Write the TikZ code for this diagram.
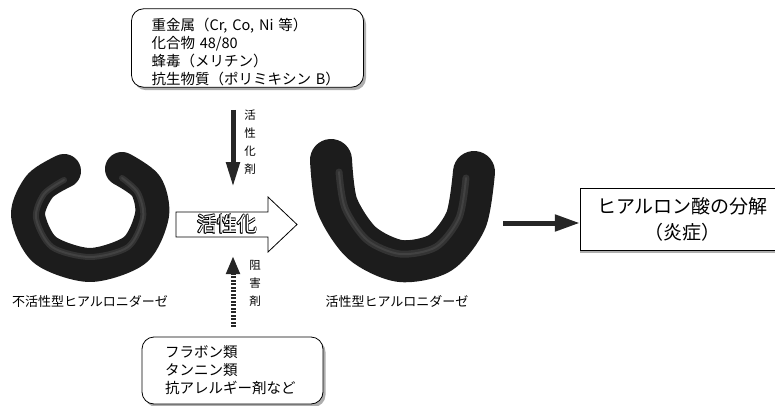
\documentclass[tikz,border=0pt]{standalone}
\usepackage{fontspec}
\setmainfont{Noto Sans CJK JP}
\usetikzlibrary{arrows.meta,shadows}

\definecolor{ringdark}{HTML}{1C1C1C}
\definecolor{ringlight}{HTML}{5E5E5E}

% white glyphs with a black rim (eight shifted copies underneath)
\newcommand\rimcopy[3]{\rlap{\kern#1\raise#2\hbox{#3}}}
\newcommand\hollowtext[1]{\leavevmode
  \rimcopy{-.8pt}{0pt}{#1}\rimcopy{.8pt}{0pt}{#1}%
  \rimcopy{0pt}{.8pt}{#1}\rimcopy{0pt}{-.8pt}{#1}%
  \rimcopy{-.6pt}{.6pt}{#1}\rimcopy{.6pt}{.6pt}{#1}%
  \rimcopy{-.6pt}{-.6pt}{#1}\rimcopy{.6pt}{-.6pt}{#1}%
  \textcolor{white}{#1}}

\tikzset{
  notebox/.style={draw, thick, rounded corners=12pt, fill=white, align=left,
    font=\fontsize{14.5}{18}\selectfont,
    drop shadow={shadow xshift=2.5pt, shadow yshift=-3pt, fill=black!45, opacity=.7}},
  ring/.style={line width=#1, color=ringdark, line cap=round, line join=round},
  ringshine/.style={line width=#1, color=ringlight, line cap=round, opacity=.35},
  bigarrow/.style={line width=5pt, color=black!85, -{Triangle[length=25pt,width=13pt]}},
  vlabel/.style={align=center, font=\fontsize{11.5}{18}\selectfont},
  enzlabel/.style={font=\fontsize{13}{15}\selectfont}
}

\begin{document}
\begin{tikzpicture}[x=1pt, y=-1pt]
\useasboundingbox (0,0) rectangle (775,406);

% activators and inhibitors
\node[notebox, text width=192pt, inner xsep=20pt, inner ysep=1pt] (activators) at (247.5,48)
  {\rule{0pt}{21pt}重金属（Cr, Co, Ni 等）\\化合物 48/80\\蜂毒（メリチン）\\抗生物質（ポリミキシン B）};
\node[notebox, text width=135pt, inner xsep=23pt, minimum height=67pt] (inhibitors) at (232.5,370.5)
  {フラボン類\\タンニン類\\抗アレルギー剤など};

% inactive enzyme (open ring)
\draw[ring=34pt] plot[smooth] coordinates {(64,171) (40,186) (28,215) (45,250) (90,265) (135,250) (152,215) (146,186) (122,169)};
\draw[ringshine=6pt] plot[smooth] coordinates {(64,180) (44,194) (36,218) (52,247) (90,257) (128,247) (143,218) (138,193) (122,178)};
\draw[ringshine=2pt] plot[smooth] coordinates {(64,180) (44,194) (36,218) (52,247) (90,257) (128,247) (143,218) (138,193) (122,178)};
\node[enzlabel] (inactive) at (90,302) {不活性型ヒアルロニダーゼ};

% active enzyme (U shape)
\draw[ring=42pt] plot[smooth] coordinates {(331,160) (337,205) (362,243) (400,261) (440,253) (466,220) (474,172)};
\draw[ringshine=7pt] plot[smooth] coordinates {(339,172) (345,208) (367,240) (400,254) (436,247) (459,218) (466,178)};
\draw[ringshine=2pt] plot[smooth] coordinates {(339,172) (345,208) (367,240) (400,254) (436,247) (459,218) (466,178)};
\node[enzlabel] (active) at (397,302) {活性型ヒアルロニダーゼ};

% activation arrow
\draw[thick, fill=white] (176,212) -- (268,212) -- (268,197) -- (297,224.5) -- (268,252) -- (268,237) -- (176,237) -- cycle;
\node[font=\fontsize{20}{20}\selectfont] (activation) at (227,224) {\hollowtext{活性化}};

% activator arrow
\coordinate (actin) at (233,110);
\coordinate (actout) at (233,187);
\draw[bigarrow] (actin) -- (actout);
\node[vlabel] (actlabel) at (250,142) {活\\性\\化\\剤};

% inhibitor arrow
\coordinate (inhin) at (233,327);
\coordinate (inhout) at (233,256);
\draw[line width=5pt, color=black!85, dash pattern=on 2pt off 1.5pt, -{Triangle[length=18pt,width=13pt]}] (inhin) -- (inhout);
\node[vlabel] (inhlabel) at (255,283) {阻\\害\\剤};

% result
\node[draw, fill=white, minimum width=205pt, minimum height=62pt, align=center,
  font=\fontsize{19}{26}\selectfont,
  drop shadow={shadow xshift=0pt, shadow yshift=-3pt, fill=black!45, opacity=.7}] (result) at (682.5,219)
  {ヒアルロン酸の分解\\（炎症）};
\coordinate (resin) at (503,223);
\draw[bigarrow, -{Triangle[length=25pt,width=16pt]}] (resin) -- (result.west |- resin);
\end{tikzpicture}
\end{document}
